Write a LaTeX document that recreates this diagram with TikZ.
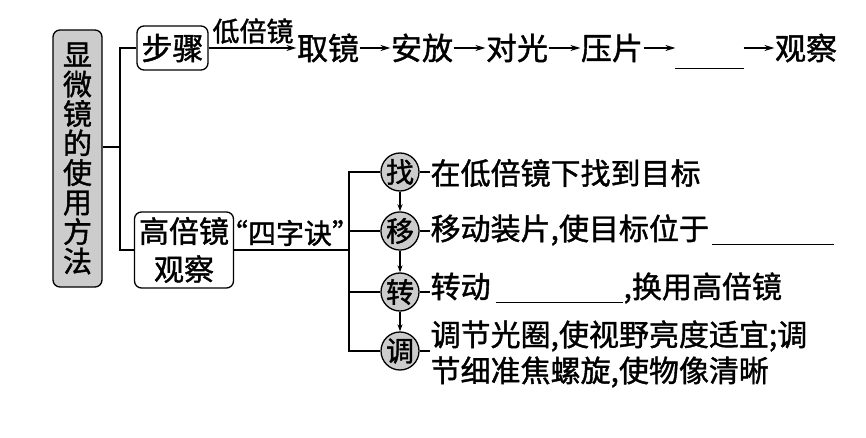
\documentclass[tikz,border=0pt]{standalone}
\usepackage{fontspec}
\setmainfont{Noto Sans CJK SC}[BoldFont={Noto Sans CJK SC}, BoldFeatures={FakeBold=1.3}]
\usetikzlibrary{arrows.meta}
\begin{document}
\begin{tikzpicture}[x=1pt,y=-1pt, line width=1.2pt,
  box/.style={draw, rounded corners=7pt, line width=1.3pt, inner sep=0pt, align=center},
  txt/.style={inner sep=0pt, font=\fontsize{30}{36}\selectfont},
  top/.style={inner sep=0pt, font=\fontsize{31}{31}\selectfont},
  circ/.style={circle, draw, line width=1.3pt, fill=gray!40, minimum size=38pt, inner sep=0pt, font=\fontsize{28}{28}\selectfont},
  arr/.style={-{Stealth[length=10pt,width=6pt]}},
  sarr/.style={-{Stealth[length=7pt,width=5pt]}}]
\bfseries
\useasboundingbox (0,0) rectangle (866,438);

% main box
\node[box, fill=gray!40, minimum width=49pt, minimum height=257pt,
      font=\fontsize{29}{29.5}\selectfont] (main) at (77.5,158.5)
      {显\\微\\镜\\的\\使\\用\\方\\法};
\node[box, minimum width=71pt, minimum height=44pt, font=\fontsize{31}{31}\selectfont] (bz) at (172.5,48) {步骤};
\node[box, minimum width=99pt, minimum height=76pt, font=\fontsize{30}{38}\selectfont] (gb) at (184,250) {高倍镜\\观察};

\coordinate (tk) at (120,147);
\draw (main.east |- tk) -- (tk);
\draw (bz.west) -| (tk) |- (gb.west);

% top chain
\node[top] (t1) at (328,48) {取镜};
\node[top] (t2) at (422,48) {安放};
\node[top] (t3) at (517,48) {对光};
\node[top] (t4) at (612,48) {压片};
\node[inner sep=0pt, minimum width=67pt, minimum height=40pt] (bl) at (709.5,48) {};
\node[top] (t6) at (806,48) {观察};
\node[inner sep=0pt, font=\fontsize{27}{27}\selectfont] (dl) at (253,31) {低倍镜};

\draw[arr] (bz.east) -- (t1.west);
\draw[arr] (t1.east) -- (t2.west);
\draw[arr] (t2.east) -- (t3.west);
\draw[arr] (t3.east) -- (t4.west);
\draw[arr] (t4.east) -- (bl.west);
\draw (bl.south west) -- (bl.south east);
\draw[arr] (bl.east) -- (t6.west);

% high power
\node[inner sep=0pt, font=\fontsize{28}{28}\selectfont] (sz) at (290,233) {“四字诀”};
\coordinate (v) at (349,250);
\draw (gb.east) -- (v);

\node[circ] (c1) at (400,172) {找};
\node[circ] (c2) at (400,231) {移};
\node[circ] (c3) at (400,292) {转};
\node[circ] (c4) at (400,351) {调};

\draw (c1.west) -| (v) |- (c4.west);
\draw (c2.west) -- (c2.west -| v);
\draw (c3.west) -- (c3.west -| v);

\draw[sarr] (c1.south) -- (c2.north);
\draw[sarr] (c2.south) -- (c3.north);
\draw[sarr] (c3.south) -- (c4.north);

\node[txt, anchor=west] (r1) at (430,173) {在低倍镜下找到目标};
\node[txt, anchor=west] (r2) at (430,230) {移动装片,使目标位于\hspace{3pt}\smash{\rule[-5pt]{122pt}{1.2pt}}};
\node[txt, anchor=west] (r3) at (430,288) {转动\hspace{5pt}\smash{\rule[-5pt]{127pt}{1.2pt}}\hspace{1pt},换用高倍镜};
\node[txt, anchor=west, align=left] (r4) at (430,354) {调节光圈,使视野亮度适宜;调\\节细准焦螺旋,使物像清晰};

\draw (c1.east) -- (c1.east -| r1.west);
\draw (c2.east) -- (c2.east -| r2.west);
\draw (c3.east) -- (c3.east -| r3.west);
\draw (c4.east) -- (c4.east -| r4.west);
\end{tikzpicture}
\end{document}
